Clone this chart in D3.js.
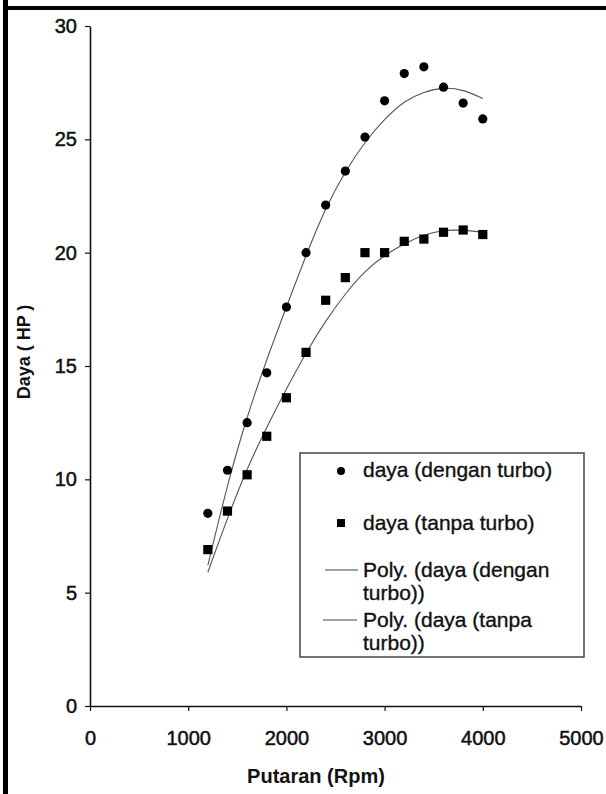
<!DOCTYPE html>
<html>
<head>
<meta charset="utf-8">
<script src="https://cdn.jsdelivr.net/npm/d3@7"></script>
<style>
  body { margin: 0; background: #fff; }
  svg text { font-family: "Liberation Sans", Arial, sans-serif; fill: #111; }
</style>
</head>
<body>
<svg id="chart" width="606" height="794"></svg>
<script>
  const rpm = [1200, 1400, 1600, 1800, 2000, 2200, 2400, 2600, 2800, 3000, 3200, 3400, 3600, 3800, 4000];
  const dayaTurbo = [8.5, 10.4, 12.5, 14.7, 17.6, 20.0, 22.1, 23.6, 25.1, 26.7, 27.9, 28.2, 27.3, 26.6, 25.9];
  const dayaTanpa = [6.9, 8.6, 10.2, 11.9, 13.6, 15.6, 17.9, 18.9, 20.0, 20.0, 20.5, 20.6, 20.9, 21.0, 20.8];
  // trendline (Poly.) values at the same rpm steps
  const polyTurbo = [6.2, 9.8, 12.8, 15.3, 17.6, 19.9, 22.0, 23.6, 24.9, 25.9, 26.7, 27.1, 27.3, 27.2, 26.8];
  const polyTanpa = [5.9, 8.3, 10.5, 12.3, 14.0, 15.6, 17.0, 18.2, 19.2, 19.9, 20.4, 20.8, 21.0, 21.0, 20.9];
  const xTicks = [0, 1000, 2000, 3000, 4000, 5000];
  const yTicks = [0, 5, 10, 15, 20, 25, 30];
  const legendLabels = [
    ['daya (dengan turbo)'],
    ['daya (tanpa turbo)'],
    ['Poly. (daya (dengan', 'turbo))'],
    ['Poly. (daya (tanpa', 'turbo))']
  ];

  const svg = d3.select('#chart');
  const x = d3.scaleLinear().domain([0, 5000]).range([90, 581]);
  const y = d3.scaleLinear().domain([0, 30]).range([706, 26]);

  // frame of the scanned figure (left + top)
  svg.append('rect').attr('x', 3).attr('y', 0).attr('width', 5).attr('height', 794).attr('fill', '#000');
  svg.append('rect').attr('x', 3).attr('y', 6).attr('width', 603).attr('height', 4).attr('fill', '#000');

  // trend lines
  const line = d3.line()
    .x((d, i) => x(rpm[i]))
    .y(d => y(d))
    .curve(d3.curveBasis);
  [polyTurbo, polyTanpa].forEach(vals => {
    svg.append('path')
      .attr('d', line(vals))
      .attr('fill', 'none')
      .attr('stroke', '#555')
      .attr('stroke-width', 1.1);
  });

  // axes
  const xAxis = svg.append('g')
    .attr('transform', `translate(0, ${y(0)})`)
    .call(d3.axisBottom(x).tickValues(xTicks).tickFormat(d3.format('d'))
      .tickSize(5).tickSizeOuter(0).tickPadding(20));
  const yAxis = svg.append('g')
    .attr('transform', `translate(${x(0)}, 0)`)
    .call(d3.axisLeft(y).tickValues(yTicks).tickFormat(d3.format('d'))
      .tickSize(5).tickSizeOuter(0).tickPadding(8));
  [xAxis, yAxis].forEach(g => {
    g.select('.domain').attr('stroke', '#111').attr('stroke-width', 1.6);
    g.selectAll('.tick line').attr('stroke', '#111').attr('stroke-width', 1.2);
    g.selectAll('.tick text')
      .attr('font-size', 20)
      .attr('font-family', '"Liberation Sans", Arial, sans-serif')
      .attr('fill', '#111')
      .attr('stroke', '#111')
      .attr('stroke-width', 0.5);
  });

  // points
  svg.append('g').selectAll('circle')
    .data(rpm)
    .enter()
    .append('circle')
    .attr('cx', d => x(d))
    .attr('cy', (d, i) => y(dayaTurbo[i]))
    .attr('r', 4.6)
    .attr('fill', '#000');

  svg.append('g').selectAll('rect')
    .data(rpm)
    .enter()
    .append('rect')
    .attr('x', d => x(d) - 4.6)
    .attr('y', (d, i) => y(dayaTanpa[i]) - 4.6)
    .attr('width', 9.2)
    .attr('height', 9.2)
    .attr('fill', '#000');

  // axis titles
  svg.append('text')
    .attr('x', 316)
    .attr('y', 783)
    .attr('text-anchor', 'middle')
    .attr('font-size', 20)
    .attr('font-weight', 'bold')
    .text('Putaran (Rpm)');

  svg.append('text')
    .attr('transform', 'translate(30, 352) rotate(-90)')
    .attr('text-anchor', 'middle')
    .attr('font-size', 18)
    .attr('font-weight', 'bold')
    .text('Daya ( HP )');

  // legend
  const legend = svg.append('g');
  legend.append('rect')
    .attr('x', 300).attr('y', 453)
    .attr('width', 284).attr('height', 204)
    .attr('fill', '#fff')
    .attr('stroke', '#444')
    .attr('stroke-width', 1.5);

  const rowY = [477, 530, 577, 627];
  legend.append('circle').attr('cx', 341).attr('cy', rowY[0] - 6).attr('r', 4).attr('fill', '#000');
  legend.append('rect').attr('x', 337).attr('y', rowY[1] - 11).attr('width', 8).attr('height', 8).attr('fill', '#000');
  legend.append('line').attr('x1', 325).attr('x2', 358).attr('y1', rowY[2] - 7).attr('y2', rowY[2] - 7)
    .attr('stroke', '#444').attr('stroke-width', 1.2);
  legend.append('line').attr('x1', 323).attr('x2', 357).attr('y1', rowY[3] - 7).attr('y2', rowY[3] - 7)
    .attr('stroke', '#444').attr('stroke-width', 1.2);

  legendLabels.forEach((lines, i) => {
    const t = legend.append('text')
      .attr('x', 363)
      .attr('y', rowY[i])
      .attr('font-size', 21)
      .attr('stroke', '#111')
      .attr('stroke-width', 0.35);
    lines.forEach((s, k) => {
      t.append('tspan').attr('x', 363).attr('dy', k === 0 ? 0 : 23).text(s);
    });
  });
</script>
</body>
</html>
